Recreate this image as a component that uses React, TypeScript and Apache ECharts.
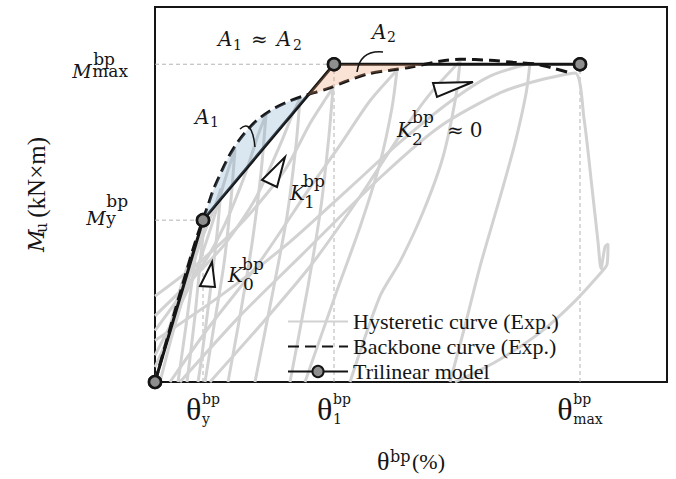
import React, { useEffect, useRef } from 'react';
import * as echarts from 'echarts';

// ---------- data (x: rotation θ in %, y: moment in kN·m) ----------
const thetaTicks = [0.48, 1.79, 4.25];
const thetaTickSubs = ['y', '1', 'max'];
const momentTicks = [164, 322];
const momentTickSubs = ['y', 'max'];

const trilinearModel = [[0, 0], [0.48, 164], [1.79, 322], [4.25, 322]];

const backboneCurve = [
  [0, 0], [0.1, 36], [0.2, 72], [0.3, 107], [0.4, 141], [0.48, 165], [0.53, 179], [0.58, 194],
  [0.65, 210], [0.73, 227], [0.82, 242], [0.92, 255], [1.03, 266], [1.17, 276], [1.33, 284],
  [1.52, 291], [1.72, 297], [1.92, 305], [2.12, 312], [2.35, 316], [2.55, 319], [2.85, 325],
  [3.05, 327], [3.35, 326], [3.58, 324], [3.82, 322], [3.98, 318], [4.16, 313],
];

const areaA1 = [
  [0.48, 164], [0.53, 179], [0.58, 194], [0.65, 210], [0.73, 227], [0.82, 242], [0.92, 255],
  [1.03, 266], [1.17, 276], [1.33, 284], [1.52, 290],
];
const areaA2 = [
  [1.52, 290], [1.79, 322], [2.7, 322], [2.55, 319], [2.35, 316], [2.12, 312], [1.92, 305], [1.72, 297],
];

const loopE1 = [[0, 0], [0.1, 37], [0.23, 87], [0.35, 125], [0.43, 147], [0.39, 117], [0.31, 57], [0.23, 0]];
const loopE2 = [[0, 15], [0.15, 50], [0.3, 95], [0.45, 140], [0.6, 178], [0.66, 196], [0.62, 150], [0.55, 90], [0.46, 20], [0.43, 0]];
const loopC1 = [[0.05, 0], [0.17, 47], [0.3, 92], [0.42, 135], [0.5, 166], [0.46, 130], [0.4, 67], [0.32, 0]];
const loopC2 = [[0, 27], [0.2, 67], [0.4, 110], [0.57, 160], [0.7, 205], [0.8, 236], [0.76, 185], [0.69, 120], [0.59, 57], [0.5, 0]];
const loopC3 = [[0, 52], [0.25, 87], [0.5, 122], [0.7, 160], [0.9, 210], [1.03, 250], [1.11, 271], [1.06, 212], [0.97, 140], [0.85, 67], [0.73, 0]];
const loopC4 = [[0, 67], [0.35, 102], [0.7, 140], [1.0, 185], [1.25, 240], [1.37, 270], [1.45, 287], [1.41, 240], [1.32, 168], [1.17, 87], [1.0, 0]];
const loopC5 = [[0, 87], [0.45, 122], [0.9, 165], [1.3, 215], [1.55, 262], [1.7, 286], [1.78, 298], [1.74, 250], [1.66, 178], [1.53, 97], [1.35, 0]];
const loopC6 = [[0.15, 0], [0.55, 57], [1.05, 122], [1.55, 197], [1.85, 240], [2.15, 285], [2.42, 316], [2.37, 278], [2.25, 222], [2.05, 157], [1.8, 87], [1.5, 0]];
const loopC7 = [[0.55, 0], [1.05, 57], [1.55, 117], [2.05, 188], [2.45, 250], [2.75, 292], [3.05, 325], [3.01, 290], [2.88, 228], [2.68, 172], [2.45, 122], [2.25, 87], [1.95, 0]];
const loopC8 = [[0, 42], [0.65, 87], [1.35, 142], [1.95, 197], [2.45, 243], [2.95, 284], [3.35, 310], [3.75, 323], [3.71, 292], [3.6, 242], [3.45, 187], [3.25, 117], [3.1, 57], [2.95, 0]];
const loopC9 = [[0.25, 0], [0.85, 67], [1.45, 127], [2.25, 207], [2.85, 259], [3.45, 293], [3.85, 306], [4.2, 313], [4.29, 267], [4.37, 197], [4.43, 142], [4.46, 115], [4.5, 137], [4.53, 140], [4.52, 119], [4.47, 112], [4.2, 82], [3.85, 50], [3.4, 20], [3.0, 0]];
const hysteresisLoops = [loopE1, loopE2, loopC1, loopC2, loopC3, loopC4, loopC5, loopC6, loopC7, loopC8, loopC9];

const guideLines = [
  [[0, 322], [4.25, 322]],
  [[0, 164], [0.48, 164]],
  [[0.48, 0], [0.48, 164]],
  [[1.79, 0], [1.79, 322]],
  [[4.25, 0], [4.25, 322]],
];

const legendNames = ['Hysteretic curve (Exp.)', 'Backbone curve (Exp.)', 'Trilinear model'];

// ---------- styling ----------
const SERIF = '"Liberation Serif", "Times New Roman", serif';
const MATH = '"DejaVu Serif", "Liberation Serif", serif';
const INK = '#151515';
const areaPolys = [areaA1, areaA2];
const areaFills = ['rgba(118,165,205,0.27)', 'rgba(238,150,100,0.28)'];

const L = { align: 'left' as const };

const mathText = (x: number, y: number, text: string, rich: any) => ({
  type: 'text', x, y, silent: true, z: 20,
  style: { text, rich, fill: INK, fontFamily: MATH, fontSize: 16, align: 'left', verticalAlign: 'top' },
});

const kRich = (sp1: number, sp2: number, h1: number, h2: number, h3: number) => ({
  sp1: { width: sp1, lineHeight: h1, fontSize: 10 },
  sup: { fontSize: 17, lineHeight: h1, fontFamily: MATH },
  k: { fontSize: 20, fontStyle: 'italic', lineHeight: h2, fontFamily: MATH, width: 15 },
  g: { width: 35, lineHeight: h2, fontSize: 10 },
  g2: { width: 6, lineHeight: h2, fontSize: 10 },
  t: { fontSize: 20, lineHeight: h2, fontFamily: MATH },
  sp2: { width: sp2, lineHeight: h3, fontSize: 10 },
  sub: { fontSize: 17, lineHeight: h3, fontFamily: MATH },
});

const aRich = (h1: number, h2: number) => ({
  a: { fontSize: 20, fontStyle: 'italic', lineHeight: h1, fontFamily: MATH, width: 14 },
  g1: { width: 19, lineHeight: h1, fontSize: 10 },
  t: { fontSize: 20, lineHeight: h1, fontFamily: MATH },
  g2: { width: 9, lineHeight: h1, fontSize: 10 },
  sp1: { width: 15, lineHeight: h2, fontSize: 10 },
  s: { fontSize: 14, lineHeight: h2, fontFamily: MATH, width: 8 },
  sp2: { width: 52, lineHeight: h2, fontSize: 10 },
});

// per-label vertical layout of the y tick labels (h0 top pad line, h1 sup line, h2 main line, h3 bottom pad line)
const yLabelLayout = [
  { h0: 0, h1: 12, h2: 21, h3: 17, mW: 20, spW: 20 },
  { h0: 7, h1: 6, h2: 18, h3: 0, mW: 20, spW: 21 },
];

export default function App() {
  const ref = useRef<HTMLDivElement>(null);
  useEffect(() => {
    if (!ref.current) return;
    const chart = echarts.init(ref.current, undefined, { renderer: 'svg' });

    const series: any[] = [];
    guideLines.forEach((g) => {
      series.push({
        type: 'line', name: 'guide', data: g, symbol: 'none', silent: true, z: 1,
        lineStyle: { color: '#b4b4b4', width: 1, type: [4, 3] },
      });
    });
    hysteresisLoops.forEach((loop) => {
      series.push({
        type: 'line', name: legendNames[0], data: loop, symbol: 'none', smooth: 0.25, silent: true, z: 2,
        lineStyle: { color: '#d2d2d2', width: 3 }, itemStyle: { color: '#d2d2d2' },
      });
    });
    series.push({
      type: 'line', name: legendNames[1], data: backboneCurve, symbol: 'none', smooth: 0.3, silent: true, z: 3,
      lineStyle: { color: INK, width: 3, type: [11, 6] }, itemStyle: { color: INK },
    });
    series.push({
      type: 'line', name: legendNames[2], data: trilinearModel, symbol: 'circle', symbolSize: 12, silent: true, z: 3,
      lineStyle: { color: INK, width: 3 },
      itemStyle: { color: '#8e8e8e', borderColor: INK, borderWidth: 2.5 },
    });
    series.push({
      type: 'custom', name: 'areas', silent: true, z: 4,
      data: areaPolys.map((p) => p[0]),
      renderItem: (params: any, api: any) => {
        const poly = areaPolys[params.dataIndex];
        return {
          type: 'polygon',
          shape: { points: poly.map((p) => api.coord(p)) },
          style: { fill: areaFills[params.dataIndex], stroke: 'none' },
        };
      },
    });
    series.push({
      type: 'scatter', name: 'markers', data: trilinearModel, symbol: 'circle', symbolSize: 12, silent: true, z: 6,
      itemStyle: { color: '#8e8e8e', borderColor: INK, borderWidth: 2.5, opacity: 1 },
    });

    const yRich: any = {};
    yLabelLayout.forEach((l, i) => {
      yRich['e0' + i] = { lineHeight: l.h0, fontSize: 8, ...L };
      yRich['e3' + i] = { lineHeight: l.h3, fontSize: 8, ...L };
      yRich['sp' + i] = { width: l.spW, lineHeight: l.h1, fontSize: 10, ...L };
      yRich['sup' + i] = { fontFamily: MATH, fontSize: 17, lineHeight: l.h1, ...L };
      yRich['m' + i] = { fontFamily: MATH, fontSize: 19, fontStyle: 'italic', lineHeight: l.h2, width: l.mW, ...L };
      yRich['sub' + i] = { fontFamily: MATH, fontSize: 17, lineHeight: l.h2, ...L };
    });

    const option: any = {
      animation: false,
      backgroundColor: '#ffffff',
      textStyle: { fontFamily: SERIF },
      grid: { left: 155, top: 7, right: 9, bottom: 92, show: true, borderColor: INK, borderWidth: 2, backgroundColor: 'transparent' },
      legend: {
        data: [
          { name: legendNames[0], itemStyle: { opacity: 0 } },
          { name: legendNames[1], itemStyle: { opacity: 0 } },
          { name: legendNames[2] },
        ],
        orient: 'vertical', left: 287, top: 309, padding: 0, itemGap: 0,
        itemWidth: 60, itemHeight: 14, selectedMode: false,
        textStyle: { fontFamily: SERIF, fontSize: 22, color: INK, lineHeight: 25 },
      },
      xAxis: {
        type: 'value', min: 0, max: 5.12,
        axisLine: { show: false }, axisTick: { show: false }, splitLine: { show: false },
        axisLabel: {
          customValues: thetaTicks, margin: 13, color: INK,
          formatter: (v: number) => {
            const i = thetaTicks.indexOf(v);
            return `{sp| }{sup|bp}\n{th|θ}\n{sp3| }{sub|${thetaTickSubs[i]}}`;
          },
          rich: {
            sp: { width: 16, lineHeight: 8, fontSize: 10, ...L },
            sup: { fontFamily: MATH, fontSize: 14, lineHeight: 8, ...L },
            th: { fontFamily: SERIF, fontSize: 32, lineHeight: 12, width: 16, ...L },
            sp3: { width: 16, lineHeight: 8, fontSize: 10, ...L },
            sub: { fontFamily: MATH, fontSize: 14, lineHeight: 8, ...L },
          },
        },
        name: '{sp| }{sup|bp}\n{th|θ}{g| }{t|(%)}', nameLocation: 'middle', nameGap: 72,
        nameTextStyle: {
          color: INK, fontFamily: SERIF,
          rich: {
            sp: { width: 13, lineHeight: 4, fontSize: 10, ...L },
            sup: { fontFamily: MATH, fontSize: 16, lineHeight: 4, ...L },
            th: { fontFamily: SERIF, fontSize: 26, lineHeight: 6, width: 13, ...L },
            g: { width: 22, lineHeight: 6, fontSize: 10, ...L },
            t: { fontFamily: SERIF, fontSize: 22, lineHeight: 6, ...L },
          },
        },
      },
      yAxis: {
        type: 'value', min: 0, max: 380,
        axisLine: { show: false }, axisTick: { show: false }, splitLine: { show: false },
        axisLabel: {
          customValues: momentTicks, margin: 27, color: INK,
          formatter: (v: number) => {
            const i = momentTicks.indexOf(v);
            const l = yLabelLayout[i];
            let s = '';
            if (l.h0) s += `{e0${i}| }\n`;
            s += `{sp${i}| }{sup${i}|bp}\n{m${i}|M}{sub${i}|${momentTickSubs[i]}}`;
            if (l.h3) s += `\n{e3${i}| }`;
            return s;
          },
          rich: yRich,
        },
        name: '{m|M}{g| }{t| (kN×m)}\n{sp| }{sub|u}', nameLocation: 'middle', nameGap: 113,
        nameTextStyle: {
          color: INK, fontFamily: SERIF,
          rich: {
            m: { fontFamily: MATH, fontSize: 22, fontStyle: 'italic', lineHeight: 8, width: 19, ...L },
            g: { width: 9, lineHeight: 8, fontSize: 10, ...L },
            t: { fontFamily: SERIF, fontSize: 25, lineHeight: 8, ...L },
            sp: { width: 19, lineHeight: 2, fontSize: 10, ...L },
            sub: { fontFamily: MATH, fontSize: 16, lineHeight: 2, ...L },
          },
        },
      },
      graphic: [
        // slope triangles
        { type: 'polygon', z: 15, silent: true, shape: { points: [[200, 286], [212, 262], [215, 287]] }, style: { fill: '#fff', stroke: INK, lineWidth: 2 } },
        { type: 'polygon', z: 15, silent: true, shape: { points: [[262, 180], [285, 157], [277, 187]] }, style: { fill: '#fff', stroke: INK, lineWidth: 2 } },
        { type: 'polygon', z: 15, silent: true, shape: { points: [[433, 83], [473, 82], [437, 97]] }, style: { fill: '#fff', stroke: INK, lineWidth: 2 } },
        // leaders
        { type: 'bezierCurve', z: 15, silent: true, shape: { x1: 240, y1: 129, cpx1: 252, cpy1: 118, x2: 255, y2: 147 }, style: { stroke: INK, lineWidth: 1.5, fill: 'none' } },
        { type: 'bezierCurve', z: 15, silent: true, shape: { x1: 357, y1: 72, cpx1: 360, cpy1: 50, x2: 383, y2: 52 }, style: { stroke: INK, lineWidth: 1.5, fill: 'none' } },
        // labels
        mathText(218, 32.5, '{a|A}{g1| }{t|≈}{g2| }{a|A}\n{sp1| }{s|1}{sp2| }{s|2}', aRich(12, 1)),
        mathText(372, 26.5, '{a|A}\n{sp1| }{s|2}', aRich(10, 1)),
        mathText(195, 111.5, '{a|A}\n{sp1| }{s|1}', aRich(10, 1)),
        mathText(228, 261, '{sp1| }{sup|bp}\n{k|K}\n{sp2| }{sub|0}', kRich(14, 15, 6, 15, 3)),
        mathText(290, 177, '{sp1| }{sup|bp}\n{k|K}\n{sp2| }{sub|1}', kRich(13, 14, 8, 16, 2)),
        mathText(397, 113, '{sp1| }{sup|bp}\n{k|K}{g| }{t|≈}{g2| }{t|0}\n{sp2| }{sub|2}', kRich(15, 15, 8, 17, 1)),
      ],
      series,
    };
    chart.setOption(option);
    return () => chart.dispose();
  }, []);
  return <div ref={ref} style={{ position: 'fixed', left: 0, top: 0, width: 676, height: 479 }} />;
}
